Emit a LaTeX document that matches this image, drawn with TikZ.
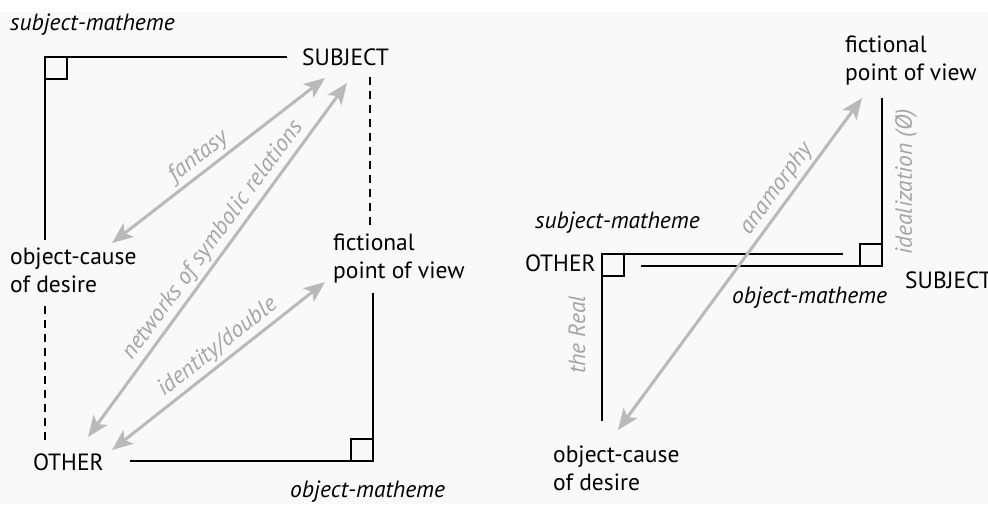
\documentclass[tikz,border=0pt]{standalone}
\usepackage{fontspec}
\setmainfont{PT Sans}
\usetikzlibrary{arrows.meta}
\definecolor{paper}{RGB}{249,249,249}
\definecolor{relgray}{RGB}{185,185,185}
\definecolor{lblgray}{RGB}{165,165,165}
\begin{document}
\begin{tikzpicture}[x=1pt,y=-1pt,
  txt/.style={inner sep=0pt,anchor=base west,font=\fontsize{23.5}{27.5}\selectfont,align=left},
  ital/.style={txt,font=\fontsize{23.5}{27.5}\selectfont\itshape},
  axis/.style={line width=2pt,black},
  dashaxis/.style={line width=2pt,black,dash pattern=on 8pt off 6pt},
  relation/.style={line width=3pt,relgray,{Stealth[length=21pt,width=17pt,inset=5pt]}-{Stealth[length=21pt,width=17pt,inset=5pt]}},
  rlabel/.style={sloped,above,inner sep=3pt,text=lblgray,font=\fontsize{23.5}{27.5}\selectfont\itshape},
  vlabel/.style={inner sep=0pt,rotate=90,text=lblgray,font=\fontsize{23.5}{27.5}\selectfont\itshape}
]
\useasboundingbox (0,0) rectangle (988,504);
\clip (0,0) rectangle (988,504);
\fill[paper] (0,12) rectangle (988,504);

% ---------- left square ----------
% (base anchor of a two-line node sits on its last line)
\node[ital] (lsm) at (10,30) {subject-matheme};
\node[txt] (lsub) at (302,65) {SUBJECT};
\node[txt] (lobj) at (10,292) {object-cause\\of desire};
\node[txt] (lfic) at (333,278) {fictional\\point of view};
\node[txt] (loth) at (33,470) {OTHER};
\node[ital] (lom) at (290,497) {object-matheme};

\draw[axis] (45,240) -- (45,57) -- (287,57);
\draw[axis] (45,79) -- (67,79) -- (67,57);
\draw[dashaxis] (370,77) -- (370,229);
\draw[dashaxis] (45,306) -- (45,445);
\draw[axis] (130,461) -- (373,461) -- (373,293);
\draw[axis] (351,461) -- (351,439) -- (373,439);

\coordinate (fa1) at (112,243);
\coordinate (fa2) at (325,78);
\coordinate (nw1) at (88,437);
\coordinate (nw2) at (347,83);
\coordinate (id1) at (112,450);
\coordinate (id2) at (325,282);
\draw[relation] (fa1) -- node[rlabel,pos=0.45] {fantasy} (fa2);
\draw[relation] (nw1) -- node[rlabel,pos=0.53] {networks of symbolic relations} (nw2);
\draw[relation] (id1) -- node[rlabel,pos=0.54] {identity/double} (id2);

% ---------- right square ----------
\node[txt] (rfic) at (845,80) {fictional\\point of view};
\node[ital] (rsm) at (535,228) {subject-matheme};
\node[txt] (roth) at (525,271) {OTHER};
\node[txt] (rsub) at (905,288) {SUBJECT};
\node[ital] (rom) at (732,303) {object-matheme};
\node[txt] (robj) at (553,490) {object-cause\\of desire};
\node[vlabel] (rreal) at (577,335) {the Real};
\node[vlabel] (ridl) at (906,182) {idealization (Ø)};

\draw[axis] (843,254) -- (602,254) -- (602,421);
\draw[axis] (602,276) -- (624,276) -- (624,254);
\draw[axis] (641,266) -- (882,266) -- (882,98);
\draw[axis] (860,266) -- (860,244) -- (882,244);

\coordinate (an1) at (618,430);
\coordinate (an2) at (862,98);
\draw[relation] (an1) -- node[rlabel,pos=0.70] {anamorphy} (an2);
\end{tikzpicture}
\end{document}
